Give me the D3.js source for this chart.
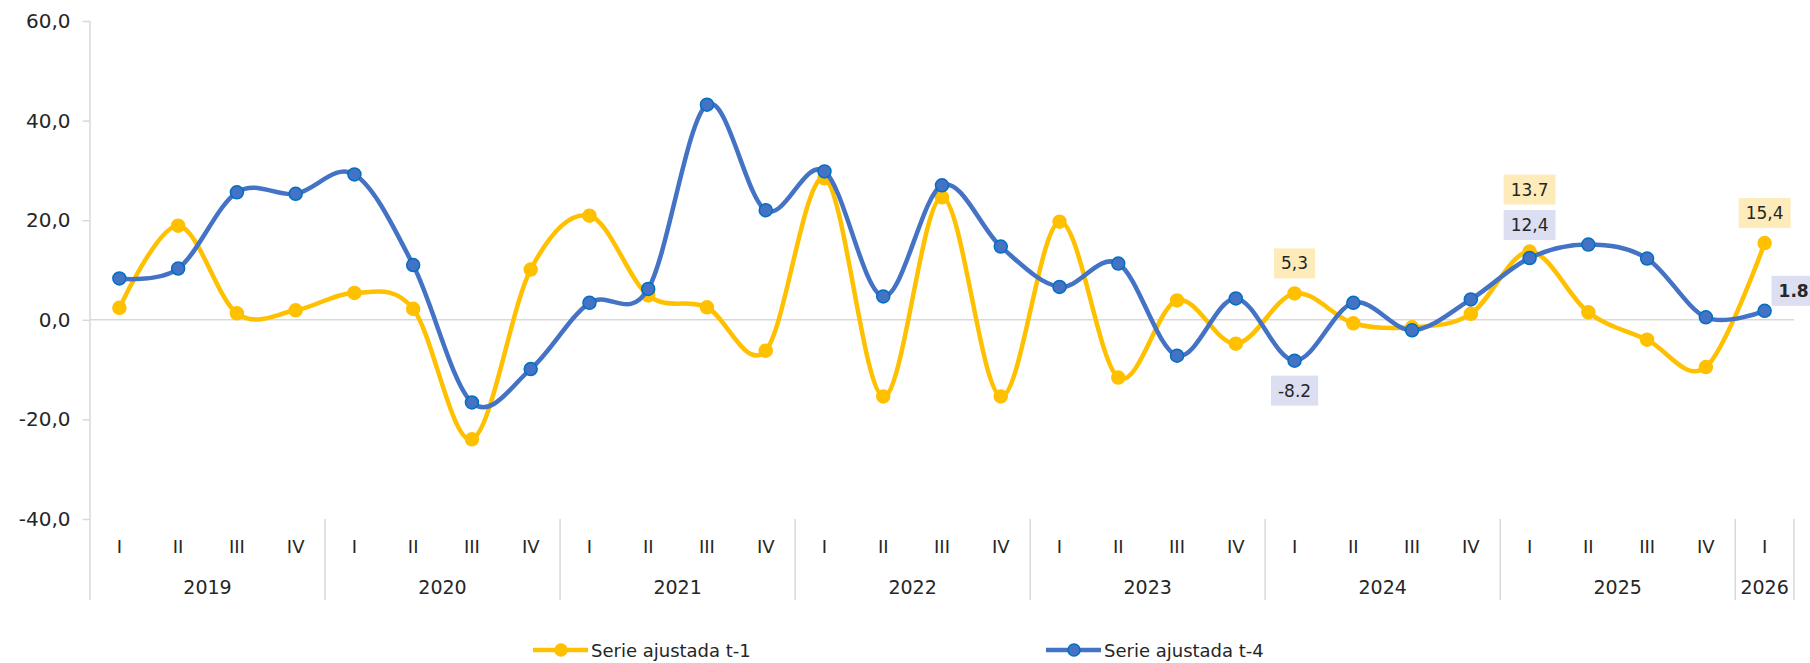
<!DOCTYPE html>
<html>
<head>
<meta charset="utf-8">
<script src="https://cdn.jsdelivr.net/npm/d3@7"></script>
<style>
  html, body { margin: 0; padding: 0; background: #ffffff; }
  svg { display: block; }
  text { font-family: "DejaVu Sans", "Open Sans", sans-serif; fill: #262626; }
</style>
</head>
<body>
<svg id="chart" width="1810" height="663"></svg>
<script>
// ---------- DATA ----------
const years = ["2019", "2020", "2021", "2022", "2023", "2024", "2025", "2026"];
const quarterNames = ["I", "II", "III", "IV"];
const categories = [
  "2019-I","2019-II","2019-III","2019-IV",
  "2020-I","2020-II","2020-III","2020-IV",
  "2021-I","2021-II","2021-III","2021-IV",
  "2022-I","2022-II","2022-III","2022-IV",
  "2023-I","2023-II","2023-III","2023-IV",
  "2024-I","2024-II","2024-III","2024-IV",
  "2025-I","2025-II","2025-III","2025-IV",
  "2026-I"
];
const serieT1 = [
  2.4, 18.9, 1.3, 1.9,
  5.4, 2.2, -24.0, 10.1,
  20.9, 4.9, 2.5, -6.2,
  28.4, -15.4, 24.6, -15.4,
  19.7, -11.6, 3.9, -4.8,
  5.3, -0.7, -1.5, 1.2,
  13.7, 1.5, -4.0, -9.5,
  15.4
];
const serieT4 = [
  8.3, 10.3, 25.6, 25.3,
  29.2, 11.0, -16.6, -9.9,
  3.4, 6.2, 43.2, 22.0,
  29.8, 4.7, 27.0, 14.7,
  6.6, 11.3, -7.2, 4.3,
  -8.2, 3.4, -2.1, 4.1,
  12.4, 15.1, 12.3, 0.5,
  1.8
];
const yTicks = [-40, -20, 0, 20, 40, 60];
const seriesNames = ["Serie ajustada t-1", "Serie ajustada t-4"];
// data labels: [category index, text]
const labelsT1 = [[20, "5,3"], [24, "13.7"], [28, "15,4"]];
const labelsT4 = [[20, "-8.2"], [24, "12,4"], [28, "1.8"]];

// ---------- LAYOUT ----------
const W = 1810, H = 663;
const plotLeft = 90, plotRight = 1794, plotTop = 21, plotBottom = 519;
const axisBottom = 600;
const yellow = "#FFC000", blue = "#4472C4", blueEdge = "#0070C0";
const grid = "#D9D9D9";

const svg = d3.select("#chart");
svg.append("rect").attr("width", W).attr("height", H).attr("fill", "#fff");

const x = d3.scaleBand().domain(categories).range([plotLeft, plotRight]).paddingInner(0).paddingOuter(0);
const y = d3.scaleLinear().domain([-40, 60]).range([plotBottom, plotTop]);
const cx = c => x(c) + x.bandwidth() / 2;
const fmt = v => d3.format(".1f")(v).replace("\u2212", "-").replace(".", ",");

// zero line
svg.append("line")
  .attr("x1", plotLeft).attr("x2", plotRight)
  .attr("y1", y(0)).attr("y2", y(0))
  .attr("stroke", grid).attr("stroke-width", 1.5);

// Y axis
const yAxis = d3.axisLeft(y).tickValues(yTicks).tickFormat(fmt).tickSize(7.5).tickPadding(12);
const gy = svg.append("g").attr("transform", `translate(${plotLeft},0)`).call(yAxis);
gy.select(".domain").remove();
gy.selectAll(".tick line").attr("stroke", grid).attr("stroke-width", 1.5);
gy.selectAll(".tick text").style("font-size", "20px").attr("fill", "#262626")
  .style("font-family", '"DejaVu Sans", sans-serif');
svg.append("line")
  .attr("x1", plotLeft).attr("x2", plotLeft)
  .attr("y1", plotTop).attr("y2", axisBottom)
  .attr("stroke", grid).attr("stroke-width", 1.5);

// X axis: quarter labels
const gx = svg.append("g");
gx.selectAll("text.q").data(categories).join("text")
  .attr("class", "q")
  .attr("x", d => cx(d))
  .attr("y", 546)
  .attr("text-anchor", "middle")
  .attr("dominant-baseline", "central")
  .style("font-size", "18px")
  .text(d => d.split("-")[1]);

// year groups
const yearGroups = years.map(yr => {
  const cats = categories.filter(c => c.startsWith(yr));
  return { yr, first: cats[0], last: cats[cats.length - 1] };
});
gx.selectAll("text.yr").data(yearGroups).join("text")
  .attr("class", "yr")
  .attr("x", d => (x(d.first) + x(d.last) + x.bandwidth()) / 2)
  .attr("y", 587)
  .attr("text-anchor", "middle")
  .attr("dominant-baseline", "central")
  .style("font-size", "19px")
  .text(d => d.yr);
// separators
const sepX = yearGroups.slice(1).map(d => x(d.first)).concat([x(categories[categories.length - 1]) + x.bandwidth()]);
gx.selectAll("line.sep").data(sepX).join("line")
  .attr("class", "sep")
  .attr("x1", d => d).attr("x2", d => d)
  .attr("y1", plotBottom).attr("y2", axisBottom)
  .attr("stroke", grid).attr("stroke-width", 1.5);

// lines
const line = d3.line().x((d, i) => cx(categories[i])).y(d => y(d)).curve(d3.curveCardinal.tension(0));

function drawSeries(vals, color, edge) {
  svg.append("path").datum(vals)
    .attr("d", line)
    .attr("fill", "none")
    .attr("stroke", color)
    .attr("stroke-width", 4.5)
    .attr("stroke-linejoin", "round");
  svg.append("g").selectAll("circle").data(vals).join("circle")
    .attr("cx", (d, i) => cx(categories[i]))
    .attr("cy", d => y(d))
    .attr("r", 6.5)
    .attr("fill", color)
    .attr("stroke", edge)
    .attr("stroke-width", 1.5);
}
drawSeries(serieT1, yellow, yellow);
drawSeries(serieT4, blue, blueEdge);

// data labels
function drawLabel(cxv, cyv, txt, fill, bold) {
  const g = svg.append("g");
  const t = g.append("text")
    .attr("x", cxv).attr("y", cyv)
    .attr("text-anchor", "middle")
    .attr("dominant-baseline", "central")
    .style("font-size", "17px")
    .style("font-weight", bold ? "bold" : "normal")
    .text(txt);
  const bb = t.node().getBBox();
  const w = Math.max(bb.width + 14, 36);
  g.insert("rect", "text")
    .attr("x", cxv - w / 2)
    .attr("y", cyv - 15)
    .attr("width", w)
    .attr("height", 30)
    .attr("fill", fill);
}
const lblYellow = "#FDEBB9", lblBlue = "#DCDEF2";
const offT1 = { 20: [0, -30], 24: [0, -62], 28: [0, -30] };
const offT4 = { 20: [0, 30], 24: [0, -33], 28: [29, -20] };
labelsT1.forEach(([i, t]) => {
  drawLabel(cx(categories[i]) + offT1[i][0], y(serieT1[i]) + offT1[i][1], t, lblYellow, false);
});
labelsT4.forEach(([i, t]) => {
  drawLabel(cx(categories[i]) + offT4[i][0], y(serieT4[i]) + offT4[i][1], t, lblBlue, i === 28);
});

// legend
const legend = [
  { name: seriesNames[0], color: yellow, edge: yellow, x0: 533 },
  { name: seriesNames[1], color: blue, edge: blueEdge, x0: 1046 }
];
const ly = 650;
const lg = svg.append("g");
legend.forEach(d => {
  lg.append("line").attr("x1", d.x0).attr("x2", d.x0 + 55).attr("y1", ly).attr("y2", ly)
    .attr("stroke", d.color).attr("stroke-width", 4.5);
  lg.append("circle").attr("cx", d.x0 + 28).attr("cy", ly).attr("r", 6)
    .attr("fill", d.color).attr("stroke", d.edge).attr("stroke-width", 1.5);
  lg.append("text").attr("x", d.x0 + 58).attr("y", ly)
    .attr("dominant-baseline", "central")
    .style("font-size", "18px")
    .text(d.name);
});
</script>
</body>
</html>
